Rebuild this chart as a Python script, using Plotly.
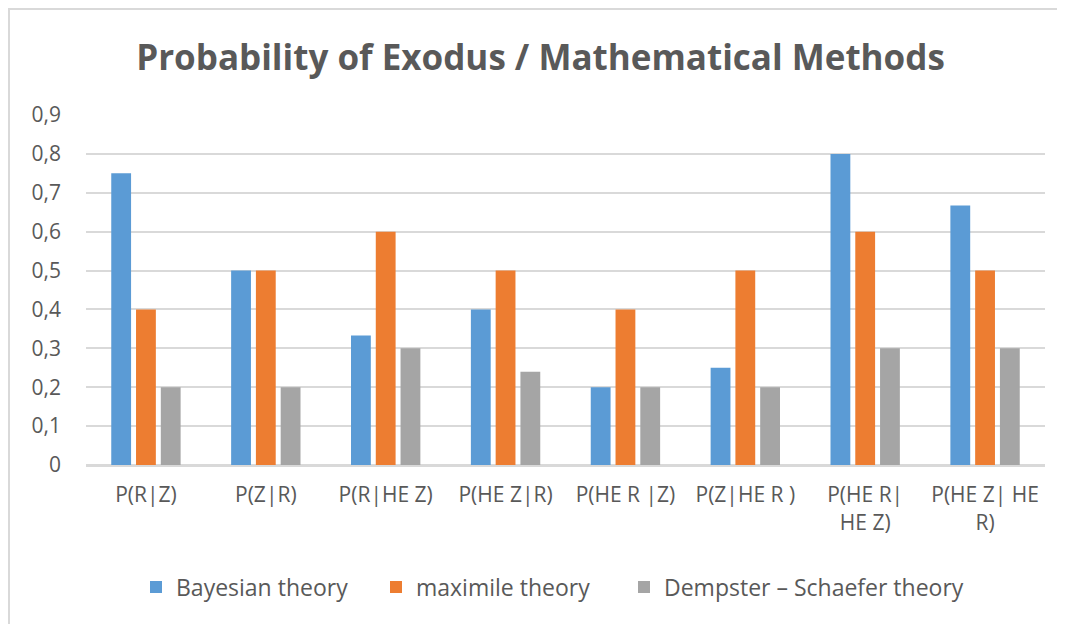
import plotly.graph_objects as go

categories = ["P(R|Z)", "P(Z|R)", "P(R|HE Z)", "P(HE Z|R)", "P(HE R |Z)",
              "P(Z|HE R )", "P(HE R|<br>HE Z)", "P(HE Z| HE<br>R)"]
bayesian = [0.75, 0.5, 0.333, 0.4, 0.2, 0.25, 0.8, 0.667]
maximile = [0.4, 0.5, 0.6, 0.5, 0.4, 0.5, 0.6, 0.5]
dempster = [0.2, 0.2, 0.3, 0.24, 0.2, 0.2, 0.3, 0.3]
series_names = ["Bayesian theory", "maximile theory", "Dempster – Schaefer theory"]
tick_vals = [0, 0.1, 0.2, 0.3, 0.4, 0.5, 0.6, 0.7, 0.8, 0.9]
tick_text = ["0", "0,1", "0,2", "0,3", "0,4", "0,5", "0,6", "0,7", "0,8", "0,9"]

colors = ["#5b9bd5", "#ed7d31", "#a5a5a5"]
font_family = "Open Sans, Liberation Sans, sans-serif"

# figure coordinates (the page body adds an 8px offset)
W, H = 1065, 624
ml, mr, mt, mb = 78, 28, 107, 167
pw, ph = W - ml - mr, H - mt - mb

def px(x):
    return (x - ml) / pw

def py(y):
    return (H - mb - y) / ph

legend_ids = ["legend", "legend2", "legend3"]
legend_left = [128, 368, 616]

fig = go.Figure()
for name, vals, c, lid in zip(series_names, [bayesian, maximile, dempster], colors, legend_ids):
    fig.add_trace(go.Bar(x=categories, y=vals, name=name, marker_color=c,
                         marker_line_width=0, legend=lid))

legend_common = dict(orientation="h", xanchor="left", y=py(579), yanchor="middle",
                     font=dict(size=23, color="#595959"), itemwidth=30,
                     bgcolor="rgba(0,0,0,0)")

fig.update_layout(
    width=W, height=H,
    margin=dict(l=ml, r=mr, t=mt, b=mb, autoexpand=False),
    paper_bgcolor="white", plot_bgcolor="white",
    barmode="group", bargap=0.38, bargroupgap=0.2,
    title=dict(text="<b>Probability of Exodus / Mathematical Methods</b>",
               x=0.5, xanchor="center", y=1 - 50 / H, yanchor="middle",
               font=dict(family=font_family, size=35, color="#595959")),
    font=dict(family=font_family, color="#595959"),
    xaxis=dict(showgrid=False, tickfont=dict(size=21, color="#595959"),
               showline=True, linecolor="#d9d9d9", linewidth=2,
               ticks="", ticklabelstandoff=10),
    yaxis=dict(range=[0, 0.9], tickvals=tick_vals, ticktext=tick_text,
               showgrid=True, gridcolor="#d9d9d9", gridwidth=2,
               zeroline=True, zerolinecolor="#d9d9d9", zerolinewidth=2,
               tickfont=dict(size=21, color="#595959"), ticks="",
               ticklabelstandoff=24),
    legend=dict(x=px(legend_left[0]), **legend_common),
    legend2=dict(x=px(legend_left[1]), **legend_common),
    legend3=dict(x=px(legend_left[2]), **legend_common),
    showlegend=True,
    shapes=[dict(type="rect", xref="paper", yref="paper",
                 x0=px(1), x1=px(W - 1), y0=py(H - 1), y1=py(1),
                 line=dict(color="#d9d9d9", width=2), fillcolor="rgba(0,0,0,0)",
                 layer="below")],
)

fig.write_html("out.html")
